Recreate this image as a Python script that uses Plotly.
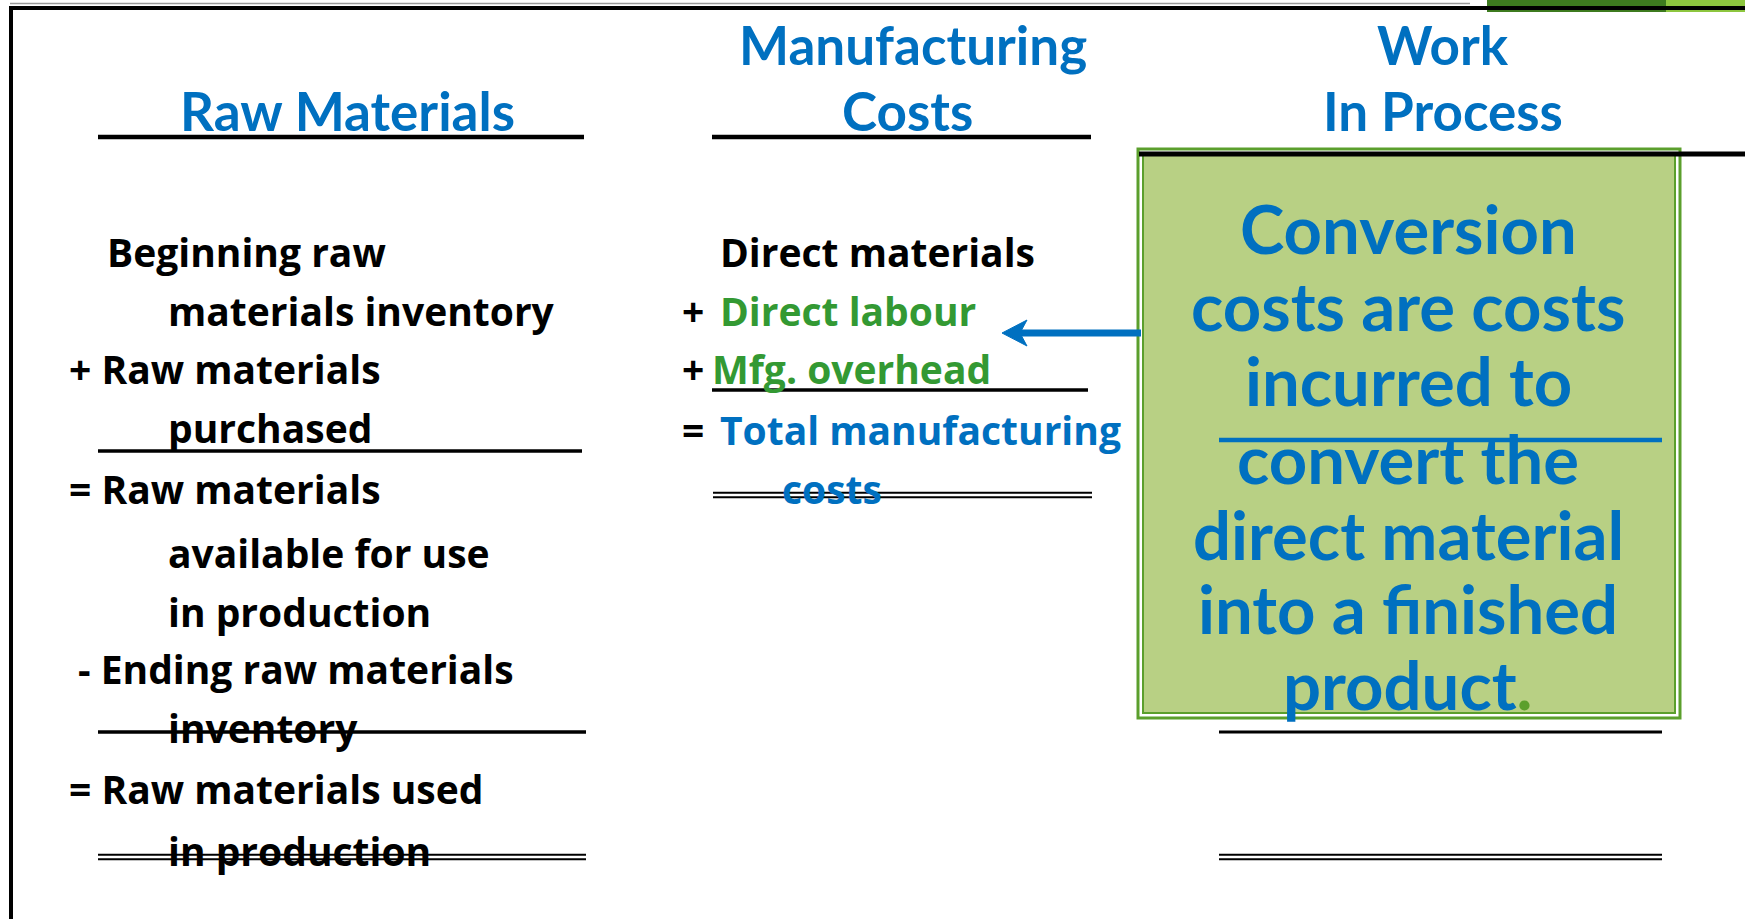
import plotly.graph_objects as go

W, H = 1745, 919
BLUE = "#0070C0"
GREEN_TXT = "#339933"
BOX_FILL = "#B8D084"
BOX_LINE = "#5B9F2C"
BLACK = "#000000"
HEAD_FONT = "Lato"
BODY_FONT = "Open Sans"

# ---- text content ----
heading_text = ["Raw Materials", "Manufacturing", "Costs", "Work", "In Process"]
rm_text = ["Beginning raw", "materials inventory", "+ Raw materials", "purchased",
           "= Raw materials", "available for use", "in production",
           "- Ending raw materials", "inventory", "= Raw materials used", "in production"]
mc_ops = ["+", "+", "="]
mc_text = ["Direct materials", "Direct labour", "Mfg. overhead", "Total manufacturing", "costs"]
mc_colors = [BLACK, GREEN_TXT, GREEN_TXT, BLUE, BLUE]
box_text = ["Conversion", "costs are costs", "incurred to", "convert the",
            "direct material", "into a finished", "product<span style='color:#5B9F2C'>.</span>"]

# ---- layout positions (pixels) ----
heading_x = [347, 913, 907, 1443, 1443]
heading_base = [131, 65, 131, 65, 131]
rm_x = [105, 166, 67, 166, 67, 166, 166, 76, 166, 67, 166]
rm_base = [267, 326, 384, 443, 504, 568, 627, 684, 743, 804, 866]
mc_ops_x = [680, 680, 680]
mc_ops_base = [326, 384, 445]
mc_x = [718, 718, 710, 718, 780]
mc_base = [267, 326, 384, 445, 504]
box_cx = 1408
box_base = [254, 331, 406, 484, 560, 634, 710]

HS, BS, XS = 53, 39, 67  # font sizes


def ycenter(base, size):
    return base - 0.39 * size


fig = go.Figure()
fig.add_trace(go.Scatter(x=[0, W], y=[0, H], mode="markers",
                         marker=dict(opacity=0), hoverinfo="skip", showlegend=False))

shapes = []


def hline(x0, x1, y, w=4, color=BLACK):
    shapes.append(dict(type="line", xref="x", yref="y", x0=x0, x1=x1, y0=y, y1=y,
                       line=dict(color=color, width=w), layer="above"))


def dline(x0, x1, y):
    hline(x0, x1, y - 2.2, 2)
    hline(x0, x1, y + 2.2, 2)


# top-right green bars
shapes.append(dict(type="rect", xref="x", yref="y", x0=1487, x1=1666, y0=0, y1=12,
                   fillcolor="#3D7B1F", line=dict(width=0), layer="below"))
shapes.append(dict(type="rect", xref="x", yref="y", x0=1666, x1=W, y0=0, y1=12,
                   fillcolor="#8DC63F", line=dict(width=0), layer="below"))
# frame
hline(10, 1470, 3.5, 1.5, "#9a9a9a")
hline(9, W, 8, 4)
shapes.append(dict(type="line", xref="x", yref="y", x0=11, x1=11, y0=6, y1=H,
                   line=dict(color=BLACK, width=4), layer="above"))

# green box (double border)
shapes.append(dict(type="rect", xref="x", yref="y", x0=1138, x1=1680, y0=149, y1=718,
                   fillcolor="white", line=dict(color=BOX_LINE, width=3), layer="below"))
shapes.append(dict(type="rect", xref="x", yref="y", x0=1143, x1=1675, y0=154, y1=713,
                   fillcolor=BOX_FILL, line=dict(color=BOX_LINE, width=2), layer="below"))

# heading underlines
hline(98, 584, 137, 4.5)
hline(712, 1091, 137, 4.5)
hline(1139, W, 154, 5)

# raw materials rules
hline(98, 582, 451, 3.5)
hline(98, 586, 732, 3.5)
dline(98, 586, 857)

# manufacturing cost rules
hline(712, 1088, 390, 3.5)
dline(713, 1092, 495)

# work in process rules
hline(1219, 1662, 440, 4.5, BLUE)
hline(1219, 1662, 732, 3)
dline(1219, 1662, 857)

# arrow
shapes.append(dict(type="line", xref="x", yref="y", x0=1018, x1=1141, y0=333, y1=333,
                   line=dict(color=BLUE, width=7), layer="above"))
shapes.append(dict(type="path", xref="x", yref="y",
                   path="M 1002 333 L 1027 320 L 1020 333 L 1027 346 Z",
                   fillcolor=BLUE, line=dict(color=BLUE, width=1), layer="above"))

ann = []


def txt(t, x, base, size, color, anchor="left", family=BODY_FONT):
    ann.append(dict(text=t, x=x, y=ycenter(base, size), xref="x", yref="y",
                    xanchor=anchor, yanchor="middle", showarrow=False,
                    font=dict(family=family, size=size, color=color, weight=700)))


for t, x, b in zip(heading_text, heading_x, heading_base):
    txt(t, x, b, HS, BLUE, "center", HEAD_FONT)
for t, x, b in zip(rm_text, rm_x, rm_base):
    txt(t, x, b, BS, BLACK)
for t, x, b in zip(mc_ops, mc_ops_x, mc_ops_base):
    txt(t, x, b, BS, BLACK)
for t, x, b, c in zip(mc_text, mc_x, mc_base, mc_colors):
    txt(t, x, b, BS, c)
for t, b in zip(box_text, box_base):
    txt(t, box_cx, b, XS, BLUE, "center", HEAD_FONT)

fig.update_layout(
    width=W, height=H, margin=dict(l=0, r=0, t=0, b=0),
    paper_bgcolor="white", plot_bgcolor="white",
    xaxis=dict(range=[0, W], visible=False, fixedrange=True),
    yaxis=dict(range=[H, 0], visible=False, fixedrange=True),
    shapes=shapes, annotations=ann, showlegend=False,
)
fig.write_html("out.html", config={"displayModeBar": False},
               post_script="document.body.style.margin='0';document.body.style.overflow='hidden';")
